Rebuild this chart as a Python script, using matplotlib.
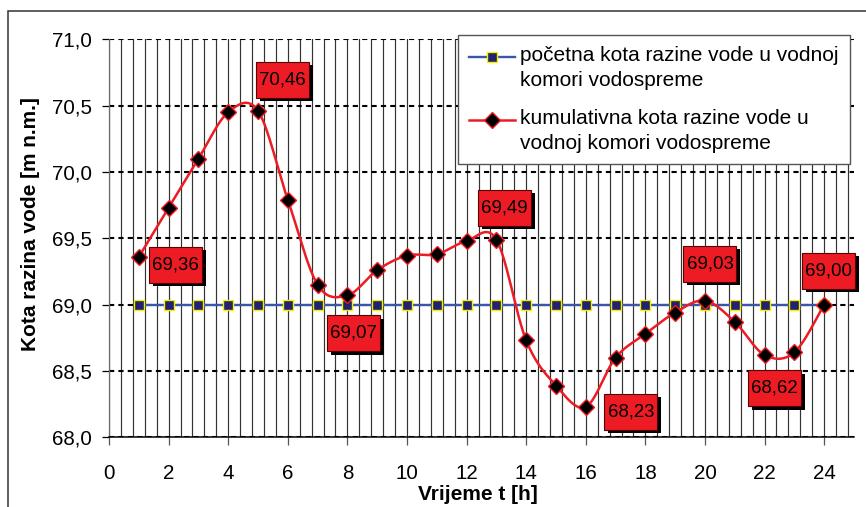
#!/usr/bin/env python3
"""
Kota razine vode u vodnoj komori vodospreme kroz 24 sata
"""

import numpy as np
import matplotlib
matplotlib.use('Agg')
import matplotlib.pyplot as plt
from matplotlib.lines import Line2D
from matplotlib.patches import Rectangle
from matplotlib.legend_handler import HandlerLine2D
from matplotlib.ticker import MultipleLocator, FuncFormatter
from matplotlib.transforms import ScaledTranslation

plt.rcParams['font.family'] = ['Liberation Sans', 'DejaVu Sans']

# Data
hours = [1, 2, 3, 4, 5, 6, 7, 8, 9, 10, 11, 12,
         13, 14, 15, 16, 17, 18, 19, 20, 21, 22, 23, 24]
initial_level = [69.00] * 24
cumulative_level = [69.36, 69.73, 70.10, 70.45, 70.46, 69.79, 69.15, 69.07,
                    69.26, 69.37, 69.38, 69.48, 69.49, 68.73, 68.39, 68.23,
                    68.60, 68.78, 68.94, 69.03, 68.87, 68.62, 68.64, 69.00]
labelled_hours = [1, 5, 8, 13, 16, 20, 22, 24]

legend_labels = ['početna kota razine vode u vodnoj\nkomori vodospreme',
                 'kumulativna kota razine vode u\nvodnoj komori vodospreme']
x_title = 'Vrijeme t [h]'
y_title = 'Kota razina vode [m n.m.]'

RED = '#ed1c24'
BLUE = '#3a56a8'
NAVY = '#22226e'


class RaisedLine(HandlerLine2D):
    """Legend handle lined up with the first line of a two-line label"""
    def __init__(self, shift, **kw):
        super().__init__(**kw)
        self.shift = shift

    def create_artists(self, legend, orig_handle, xdescent, ydescent,
                       width, height, fontsize, trans):
        artists = super().create_artists(legend, orig_handle, xdescent,
                                         ydescent, width, height, fontsize,
                                         trans)
        for a in artists:
            a.set_ydata(np.asarray(a.get_ydata()) + self.shift)
        return artists


def excel_smooth(x, y, steps=24):
    """Bezier smoothing the way spreadsheet charts do it"""
    pts = np.column_stack([x, y]).astype(float)
    pad = np.vstack([pts[:1], pts, pts[-1:]])
    t = np.linspace(0, 1, steps)[:, None]
    out = []
    for i in range(len(pts) - 1):
        p0, p3 = pad[i + 1], pad[i + 2]
        c1 = p0 + (pad[i + 2] - pad[i]) / 6
        c2 = p3 - (pad[i + 3] - pad[i + 1]) / 6
        seg = ((1 - t) ** 3) * p0 + 3 * ((1 - t) ** 2) * t * c1 \
            + 3 * (1 - t) * t ** 2 * c2 + t ** 3 * p3
        out.append(seg if i == 0 else seg[1:])
    out = np.vstack(out)
    return out[:, 0], out[:, 1]


def add_value_box(fig, ax, x, y, text, dx, dy):
    """Red value box with black shadow, offset (inches) from the point"""
    w, h = 0.53, 0.36
    trans = fig.dpi_scale_trans + ScaledTranslation(x, y, ax.transData)
    shadow = Rectangle((dx - w / 2 + 0.04, dy - h / 2 - 0.035), w, h,
                       transform=trans, facecolor='black', edgecolor='none',
                       zorder=6, clip_on=False)
    box = Rectangle((dx - w / 2, dy - h / 2), w, h, transform=trans,
                    facecolor=RED, edgecolor='#5a0000', linewidth=0.8,
                    zorder=7, clip_on=False)
    ax.add_patch(shadow)
    ax.add_patch(box)
    ax.text(dx, dy, text, transform=trans, ha='center', va='center',
            fontsize=13.4, color='black', zorder=8)


def main():
    fig = plt.figure(figsize=(8.66, 5.07), dpi=100)
    ax = fig.add_axes([0.1259, 0.1375, 0.8602, 0.785])

    # grid
    ax.set_xlim(0, 25)
    ax.set_ylim(68.0, 71.0)
    ax.xaxis.set_major_locator(MultipleLocator(2))
    ax.xaxis.set_minor_locator(MultipleLocator(0.4))
    ax.yaxis.set_major_locator(MultipleLocator(0.5))
    ax.grid(axis='x', which='both', color='#333333', linewidth=0.85,
            linestyle='-', zorder=0)
    ax.grid(axis='y', which='major', color='black', linewidth=1.5,
            linestyle=(0, (2.5, 2.0)), zorder=1)
    ax.get_ygridlines()[-1].set_color('#9a9a9a')
    ax.get_ygridlines()[-1].set_linewidth(1.0)
    ax.set_axisbelow(True)

    ax.spines['top'].set_visible(False)
    ax.spines['right'].set_visible(False)
    ax.spines['left'].set_color('#6a6a6a')
    ax.spines['left'].set_linewidth(0.9)
    ax.spines['bottom'].set_color('black')
    ax.spines['bottom'].set_linewidth(1.1)

    ax.tick_params(axis='x', which='major', direction='out', length=6,
                   width=0.9, color='#555555', pad=13, labelsize=14.8)
    ax.tick_params(axis='x', which='minor', length=0)
    ax.tick_params(axis='y', which='major', direction='out', length=5,
                   width=0.9, color='black', pad=7, labelsize=14.8)
    ax.yaxis.set_major_formatter(
        FuncFormatter(lambda v, p: f"{v:.1f}".replace('.', ',')))

    # series
    ax.plot(hours, initial_level, color=BLUE, linewidth=1.7, marker='s',
            markersize=7, markerfacecolor=NAVY, markeredgecolor='#f5f000',
            markeredgewidth=1.0, zorder=3, clip_on=False)
    sx, sy = excel_smooth(hours, cumulative_level)
    ax.plot(sx, sy, color=RED, linewidth=1.8, zorder=4, clip_on=False)
    ax.plot(hours, cumulative_level, linestyle='none', marker='D',
            markersize=8.5, markerfacecolor='black', markeredgecolor=RED,
            markeredgewidth=1.0, zorder=5, clip_on=False)

    # value boxes
    offsets = {1: (0.37, -0.08), 5: (0.24, 0.31), 8: (0.06, -0.38),
               13: (0.08, 0.32), 16: (0.45, -0.05), 20: (0.05, 0.37),
               22: (0.10, -0.33), 24: (0.04, 0.34)}
    for hr in labelled_hours:
        val = cumulative_level[hours.index(hr)]
        dx, dy = offsets[hr]
        add_value_box(fig, ax, hr, val, f"{val:.2f}".replace('.', ','), dx, dy)

    # axis titles
    ax.set_xlabel(x_title, fontsize=15, fontweight='bold')
    ax.xaxis.set_label_coords(0.495, -0.12)
    ax.set_ylabel(y_title, fontsize=15, fontweight='bold')
    ax.yaxis.set_label_coords(-0.093, 0.537)

    # legend
    handles = [
        Line2D([], [], color=BLUE, linewidth=1.7, marker='s', markersize=7,
               markerfacecolor=NAVY, markeredgecolor='#f5f000'),
        Line2D([], [], color=RED, linewidth=1.8, marker='D', markersize=8.5,
               markerfacecolor='black', markeredgecolor=RED),
    ]
    raise_pts = 8.0
    leg = ax.legend(handles, legend_labels, loc='upper left',
                    bbox_to_anchor=(0.468, 1.011), borderaxespad=0,
                    fancybox=False, edgecolor='#555555', framealpha=1,
                    fontsize=15, handlelength=2.2, handletextpad=0.25,
                    labelspacing=0.9, borderpad=0.55,
                    handler_map={h: RaisedLine(raise_pts) for h in handles})
    for txt in leg.get_texts():
        txt.set_linespacing(1.38)
    leg.get_frame().set_linewidth(1.0)
    leg.set_zorder(10)

    # chart area border
    fig.add_artist(Rectangle((8 / 866, -0.1), 1.0, 1.0783,
                             transform=fig.transFigure, fill=False,
                             edgecolor='#333333', linewidth=1.1))

    fig.savefig('out.png', dpi=100)


if __name__ == "__main__":
    main()
